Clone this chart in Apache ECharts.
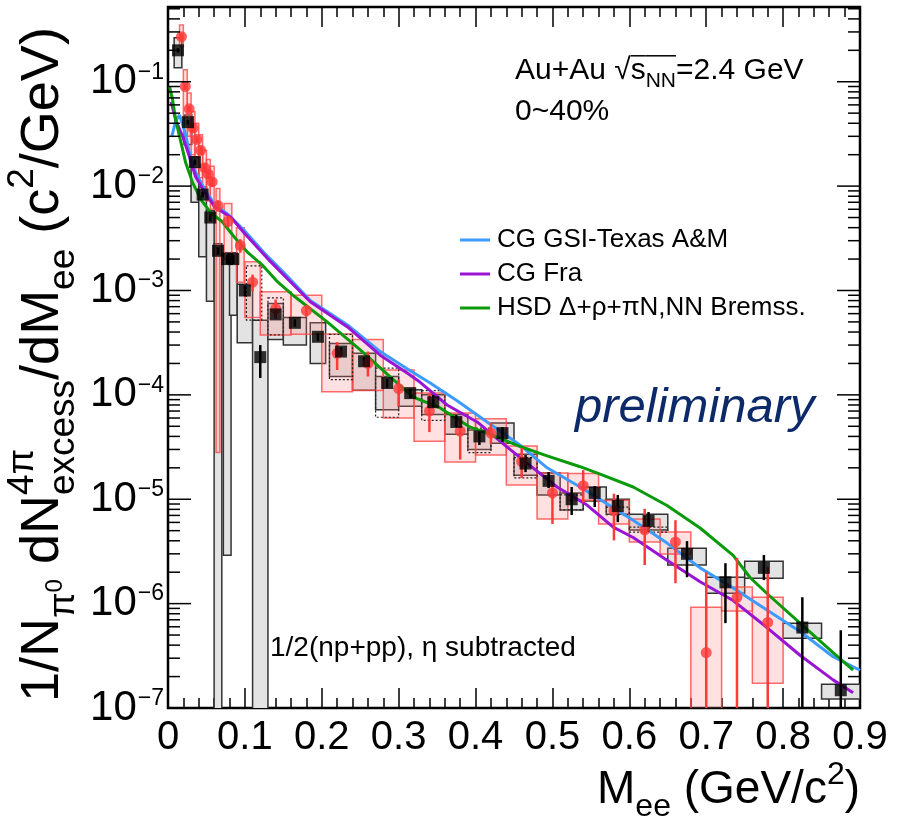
<!DOCTYPE html>
<html><head><meta charset="utf-8">
<script src="https://cdn.jsdelivr.net/npm/echarts@6/dist/echarts.min.js"></script>
<style>html,body{margin:0;padding:0;background:#fff}#c{width:901px;height:819px}</style>
</head><body><div id="c"></div>
<script>
// ---------------- data ----------------
const blackX = [0.013,0.026,0.035,0.045,0.055,0.065,0.077,0.085,0.100,0.120,0.140,0.165,0.195,0.225,0.255,0.285,0.315,0.345,0.375,0.405,0.435,0.465,0.495,0.525,0.555,0.585,0.625,0.675,0.725,0.775,0.825,0.875];
const blackY = [0.20,0.041,0.017,0.0083,0.0050,0.0024,0.0020,0.0020,0.0010,2.3e-4,5.9e-4,4.9e-4,3.6e-4,2.6e-4,2.1e-4,1.3e-4,1.04e-4,8.5e-5,5.5e-5,4.0e-5,4.3e-5,2.2e-5,1.5e-5,1.0e-5,1.15e-5,8.6e-6,6.2e-6,3.0e-6,1.6e-6,2.2e-6,5.9e-7,1.48e-7];
const blackStatLo = [0.19,0.039,0.016,0.0078,0.0046,0.0022,0.0018,0.0018,8.8e-4,1.45e-4,5.4e-4,4.5e-4,3.3e-4,2.35e-4,1.9e-4,1.17e-4,9.3e-5,7.5e-5,4.9e-5,3.31e-5,3.53e-5,1.82e-5,1.28e-5,7.06e-6,8.42e-6,6.04e-6,4.85e-6,1.79e-6,6.5e-7,1.68e-6,1e-9,1e-9];
const blackStatHi = [0.21,0.043,0.018,0.0088,0.0054,0.0026,0.0022,0.0022,1.12e-3,3.0e-4,6.4e-4,5.3e-4,3.9e-4,2.85e-4,2.3e-4,1.43e-4,1.15e-4,1.0e-4,6.4e-5,4.41e-5,4.9e-5,2.65e-5,1.82e-5,1.31e-5,1.34e-5,1.10e-5,7.54e-6,3.97e-6,2.44e-6,2.92e-6,1.15e-6,5.57e-7];
const blackSysLo = [0.136,0.025,0.007,0.0021,7.9e-4,1e-9,2.9e-6,5.8e-4,3.15e-4,1e-9,3.4e-4,3.0e-4,2.0e-4,1.5e-4,1.11e-4,7.2e-5,7.8e-5,6.5e-5,4.2e-5,3.0e-5,3.44e-5,1.7e-5,1.10e-5,7.9e-6,9.6e-6,7.2e-6,5.07e-6,2.34e-6,1.26e-6,1.75e-6,4.67e-7,1.22e-7];
const blackSysHi = [0.264,0.048,0.019,0.0098,0.0058,0.0028,0.0023,0.0023,1.15e-3,5.2e-4,7.5e-4,5.5e-4,4.9e-4,3.1e-4,2.5e-4,1.5e-4,1.12e-4,1.0e-4,6.5e-5,4.6e-5,5.37e-5,2.7e-5,1.78e-5,1.15e-5,1.31e-5,1.0e-5,7.2e-6,3.4e-6,1.79e-6,2.55e-6,6.5e-7,1.69e-7];
const blackHalfW = [0.005,0.005,0.005,0.005,0.005,0.005,0.005,0.005,0.01,0.01,0.01,0.015,0.01,0.015,0.015,0.015,0.015,0.015,0.015,0.015,0.015,0.015,0.015,0.015,0.015,0.015,0.025,0.025,0.025,0.025,0.025,0.025];

const redX = [0.0175,0.0225,0.0275,0.0325,0.0375,0.0425,0.0475,0.0525,0.0575,0.065,0.078,0.094,0.11,0.14,0.18,0.22,0.26,0.30,0.34,0.38,0.42,0.46,0.50,0.54,0.58,0.62,0.66,0.70,0.74,0.78];
const redY = [0.27,0.09,0.055,0.036,0.028,0.022,0.015,0.013,0.011,0.0065,0.0046,0.0027,0.0012,6.7e-4,6.4e-4,2.5e-4,2.0e-4,1.15e-4,7.0e-5,4.5e-5,4.3e-5,2.3e-5,1.15e-5,1.35e-5,7.8e-6,5.1e-6,3.9e-6,3.4e-7,1.15e-6,6.6e-7];
const redStatLo = [0.25,0.084,0.051,0.033,0.026,0.020,0.0138,0.0118,0.0099,0.0057,0.0040,0.0023,9.8e-4,5.4e-4,5.6e-4,1.73e-4,1.5e-4,7.7e-5,4.4e-5,2.4e-5,3.4e-5,1.6e-5,5.8e-6,9.3e-6,4.03e-6,2.34e-6,1.57e-6,1e-9,1e-9,1e-9];
const redStatHi = [0.29,0.096,0.059,0.039,0.030,0.024,0.0162,0.0142,0.0121,0.0073,0.0052,0.0031,1.42e-3,8.2e-4,7.3e-4,3.2e-4,2.6e-4,1.4e-4,1.04e-4,6.1e-5,5.4e-5,3.1e-5,1.4e-5,1.9e-5,1.13e-5,8.1e-6,6.3e-6,2.0e-6,2.73e-6,2.24e-6];
const redSysLo = [0.217,0.046,0.030,0.020,0.015,0.012,0.0085,0.0072,0.006,2.8e-5,0.0020,0.0012,5.5e-4,3.75e-4,3.8e-4,1.07e-4,1.1e-4,6.0e-5,3.6e-5,2.27e-5,2.65e-5,1.37e-5,6.46e-6,9.8e-6,5.8e-6,3.89e-6,2.98e-6,1e-9,8.5e-7,1.73e-7];
const redSysHi = [0.35,0.13,0.078,0.052,0.040,0.031,0.022,0.018,0.0155,0.0095,0.0068,0.0040,1.88e-3,9.7e-4,9.0e-4,3.84e-4,3.4e-4,1.73e-4,1.04e-4,6.7e-5,5.9e-5,3.24e-5,1.78e-5,1.76e-5,9.8e-6,6.46e-6,4.85e-6,9.25e-7,1.44e-6,1.15e-6];
const redHalfW = [0.0025,0.0025,0.0025,0.0025,0.0025,0.0025,0.0025,0.0025,0.0025,0.0025,0.005,0.005,0.01,0.02,0.02,0.02,0.02,0.02,0.02,0.02,0.02,0.02,0.02,0.02,0.02,0.02,0.02,0.02,0.02,0.02];

const dotX = [0.112,0.140,0.225,0.285,0.345,0.405,0.465,0.525,0.585,0.625];
const dotHalfW = [0.01,0.01,0.015,0.015,0.015,0.015,0.015,0.015,0.015,0.025];
const dotLo = [5.2e-4,3.75e-4,1.4e-4,6.1e-5,5.7e-5,2.8e-5,1.6e-5,7.9e-6,7.1e-6,4.85e-6];
const dotHi = [1.72e-3,8.5e-4,3.8e-4,1.8e-4,1.1e-4,4.8e-5,2.5e-5,1.1e-5,8.4e-6,5.4e-6];

const blueX = [0.005,0.010,0.015,0.022,0.028,0.036,0.048,0.060,0.080,0.100,0.125,0.150,0.185,0.233,0.276,0.312,0.341,0.376,0.415,0.458,0.493,0.536,0.579,0.605,0.649,0.692,0.735,0.779,0.822,0.865,0.900];
const blueY = [0.030,0.042,0.048,0.033,0.021,0.0135,0.0092,0.0068,0.0052,0.0037,0.0023,0.0015,8.0e-4,4.7e-4,2.6e-4,1.76e-4,1.3e-4,8.8e-5,5.5e-5,3.3e-5,2.0e-5,1.31e-5,8.3e-6,6.3e-6,3.8e-6,2.2e-6,1.41e-6,8.7e-7,5.4e-7,3.1e-7,2.3e-7];
const purpleX = [0.004,0.010,0.019,0.028,0.036,0.048,0.061,0.082,0.100,0.133,0.185,0.233,0.276,0.312,0.328,0.363,0.402,0.438,0.471,0.506,0.545,0.579,0.605,0.649,0.692,0.735,0.779,0.822,0.865,0.891];
const purpleY = [0.064,0.043,0.030,0.019,0.0123,0.0087,0.0063,0.0050,0.0035,0.0019,7.8e-4,4.5e-4,2.4e-4,1.6e-4,1.32e-4,8.0e-5,5.5e-5,3.3e-5,2.1e-5,1.31e-5,8.8e-6,5.4e-6,4.3e-6,2.6e-6,1.62e-6,1.07e-6,5.9e-7,3.2e-7,1.86e-7,1.4e-7];
const greenX = [0.002,0.006,0.010,0.017,0.023,0.032,0.043,0.056,0.070,0.087,0.104,0.122,0.143,0.165,0.207,0.250,0.293,0.319,0.354,0.393,0.419,0.458,0.493,0.536,0.562,0.605,0.649,0.692,0.735,0.757,0.779,0.822,0.865,0.891];
const greenY = [0.090,0.067,0.043,0.026,0.0167,0.0108,0.0074,0.0055,0.0046,0.0032,0.0023,0.00177,0.0012,8.7e-4,5.0e-4,2.7e-4,1.4e-4,9.5e-5,7.5e-5,4.9e-5,4.2e-5,3.2e-5,2.6e-5,2.05e-5,1.74e-5,1.31e-5,8.7e-6,5.3e-6,2.9e-6,1.78e-6,1.25e-6,6.5e-7,3.4e-7,2.3e-7];

const legendNames = ['CG GSI-Texas A&M','CG Fra','HSD \u0394+\u03c1+\u03c0N,NN Bremss.'];
const yMajorTicks = [1e-7,1e-6,1e-5,1e-4,1e-3,1e-2,1e-1];
const yMinorMult = [2,3,4,5,6,7,8,9];

// ---------------- helpers ----------------
const FAM = "'Liberation Sans', Arial, Helvetica, sans-serif";
const mctx = document.createElement('canvas').getContext('2d');
function measure(t, font){ mctx.font = font; return mctx.measureText(t).width; }
function textRuns(list, o){
  let cx = 0, pendingW = null; const kids = [];
  list.forEach(r => {
    const font = (r.it ? 'italic ' : '') + r.size + 'px ' + FAM;
    const w = measure(r.t, font);
    kids.push({type:'text', x: cx, y: (r.dy||0) - 0.35*r.size,
      style:{text:r.t, font:font, fill:r.fill||'#000', align:'left', verticalAlign:'middle', textAlign:'left', textVerticalAlign:'middle'}});
    if (r.over) kids.push({type:'line', shape:{x1:cx, y1:-0.84*o.base, x2:cx+w, y2:-0.84*o.base}, style:{stroke:'#000', lineWidth:1.5}});
    if (r.stack) pendingW = w;
    else { cx += (pendingW != null ? Math.max(w, pendingW) : w); pendingW = null; }
  });
  if (o.align === 'right') kids.forEach(k => { if (k.type==='text') k.x -= cx; else { k.shape.x1 -= cx; k.shape.x2 -= cx; } });
  return {type:'group', x:o.x, y:o.y, rotation:o.rot||0, silent:true, children:kids};
}

const yTickData = [];
yMajorTicks.forEach(v => { yTickData.push([0.45, v, 1]); yMinorMult.forEach(m => { if (v*m < 0.52) yTickData.push([0.45, v*m, 0]); }); });

function boxRender(style){
  return function(params, api){
    const x = api.value(0), lo = api.value(2), hi = api.value(3), hw = api.value(4);
    const p1 = api.coord([x-hw, hi]), p2 = api.coord([x+hw, lo]);
    return {type:'rect', shape:{x:p1[0], y:p1[1], width:p2[0]-p1[0], height:p2[1]-p1[1]}, style:style};
  };
}
function errRender(color){
  return function(params, api){
    const x = api.value(0), lo = api.value(2), hi = api.value(3);
    const p1 = api.coord([x, hi]), p2 = api.coord([x, lo]);
    return {type:'line', shape:{x1:p1[0], y1:p1[1], x2:p2[0], y2:p2[1]}, style:{stroke:color, lineWidth:2.5}};
  };
}

const blackSysData = blackX.map((x,i)=>[x, blackY[i], blackSysLo[i], blackSysHi[i], blackHalfW[i]]);
const redSysData = redX.map((x,i)=>[x, redY[i], redSysLo[i], redSysHi[i], redHalfW[i]]);
const dotData = dotX.map((x,i)=>[x, dotLo[i], dotLo[i], dotHi[i], dotHalfW[i]]);
const blackErrData = blackX.map((x,i)=>[x, blackY[i], blackStatLo[i], blackStatHi[i]]);
const redErrData = redX.map((x,i)=>[x, redY[i], redStatLo[i], redStatHi[i]]);

const RED = '#ff3838', BLUE = '#3d9bff', PURPLE = '#9a14d4', GREEN = '#0b9a0b';
const xTickCommon = {show:true, inside:true, length:20, lineStyle:{color:'#000', width:1.5}};
const xMinorCommon = {show:true, splitNumber:5, length:10, lineStyle:{color:'#000', width:1.5}};

const option = {
  backgroundColor:'#fff',
  animation:false,
  textStyle:{fontFamily:FAM},
  grid:{left:168, right:41, top:7, bottom:111, show:true, borderColor:'#000', borderWidth:2.5, backgroundColor:'transparent', outerBoundsMode:'none'},
  legend:{orient:'vertical', left:455, top:222, itemWidth:30, itemHeight:3, itemGap:8, icon:'rect', data:legendNames,
    textStyle:{fontSize:26, color:'#000', fontFamily:FAM, padding:[0,0,0,2]}, selectedMode:false},
  xAxis:[
    {type:'value', min:0, max:0.9, interval:0.1, position:'bottom', axisLine:{show:false}, splitLine:{show:false},
     axisTick:xTickCommon, minorTick:xMinorCommon,
     axisLabel:{fontSize:40, color:'#000', fontFamily:FAM, margin:10, formatter:v => v===0 ? '0' : v.toFixed(1)}},
    {type:'value', min:0, max:0.9, interval:0.1, position:'top', axisLine:{show:false}, splitLine:{show:false},
     axisTick:xTickCommon, minorTick:xMinorCommon, axisLabel:{show:false}}
  ],
  yAxis:[{type:'log', logBase:10, min:1e-7, max:0.52, axisLine:{show:false}, axisTick:{show:false}, splitLine:{show:false}, minorTick:{show:false},
    axisLabel:{margin:4, color:'#000', fontFamily:FAM,
      formatter:v => { const l = Math.log10(v), e = Math.round(l); if (Math.abs(l-e) > 0.01) return ''; return '{b|10}{s|\u2212' + (-e) + '}'; },
      rich:{b:{fontSize:42, fontFamily:FAM, color:'#000'}, s:{fontSize:23, fontFamily:FAM, color:'#000', verticalAlign:'top', padding:[0,0,18,1]}}}}],
  series:[
    {type:'custom', name:'sysBlack', clip:true, renderItem:boxRender({fill:'#e3e3e3', stroke:'#333', lineWidth:1.5}), data:blackSysData, z:1},
    {type:'custom', name:'sysRed', clip:true, renderItem:boxRender({fill:'rgba(255,130,130,0.24)', stroke:'rgba(255,70,70,0.8)', lineWidth:1.5}), data:redSysData, z:2},
    {type:'custom', name:'sysDot', clip:true, renderItem:boxRender({fill:'none', stroke:'#222', lineWidth:1.2, lineDash:[2,2]}), data:dotData, z:3},
    {type:'line', name:legendNames[0], data:blueX.map((x,i)=>[x, blueY[i]]), symbol:'none', lineStyle:{color:BLUE, width:3}, itemStyle:{color:BLUE}, z:4},
    {type:'line', name:legendNames[1], data:purpleX.map((x,i)=>[x, purpleY[i]]), symbol:'none', lineStyle:{color:PURPLE, width:3}, itemStyle:{color:PURPLE}, z:4},
    {type:'line', name:legendNames[2], data:greenX.map((x,i)=>[x, greenY[i]]), symbol:'none', lineStyle:{color:GREEN, width:3}, itemStyle:{color:GREEN}, z:4},
    {type:'custom', name:'errBlack', clip:true, renderItem:errRender('#000'), data:blackErrData, z:5},
    {type:'custom', name:'errRed', clip:true, renderItem:errRender(RED), data:redErrData, z:5},
    {type:'scatter', name:'ptsRed', data:redX.map((x,i)=>[x, redY[i]]), symbol:'circle', symbolSize:11, itemStyle:{color:RED}, z:6},
    {type:'scatter', name:'ptsBlack', data:blackX.map((x,i)=>[x, blackY[i]]), symbol:'rect', symbolSize:12, itemStyle:{color:'#000'}, z:7},
    {type:'custom', name:'yticks', clip:false, data:yTickData, z:8, silent:true,
     renderItem:function(params, api){
       const v = api.value(1), major = api.value(2);
       const pl = api.coord([0, v]), pr = api.coord([0.9, v]);
       const L = major ? 23 : 12;
       return {type:'group', children:[
         {type:'line', shape:{x1:pl[0], y1:pl[1], x2:pl[0]+L, y2:pl[1]}, style:{stroke:'#000', lineWidth:1.5}},
         {type:'line', shape:{x1:pr[0]-L, y1:pr[1], x2:pr[0], y2:pr[1]}, style:{stroke:'#000', lineWidth:1.5}}]};
     }}
  ],
  graphic:[
    textRuns([{t:'1/N',size:54},{t:'\u03c0',size:37,dy:15},{t:'0',size:24,dy:2},{t:' dN',size:54},
              {t:'4\u03c0',size:37,dy:-26,stack:true},{t:'excess',size:37,dy:15},{t:'/dM',size:54},{t:'ee',size:37,dy:15},
              {t:' (c',size:54},{t:'2',size:37,dy:-26},{t:'/GeV)',size:54}], {x:62, y:702, rot:Math.PI/2, base:54}),
    textRuns([{t:'M',size:46},{t:'ee',size:32,dy:12},{t:' (GeV/c',size:46},{t:'2',size:32,dy:-20},{t:')',size:46}], {x:860, y:806, align:'right', base:46}),
    textRuns([{t:'Au+Au ',size:30},{t:'\u221a',size:30},{t:'s',size:30,over:true},{t:'NN',size:21,dy:8,over:true},{t:'=2.4 GeV',size:30}], {x:515, y:81, base:30}),
    textRuns([{t:'0~40%',size:30}], {x:515, y:122, base:30}),
    textRuns([{t:'preliminary',size:49,it:true,fill:'#0c2a6a'}], {x:575, y:426, base:49}),
    textRuns([{t:'1/2(np+pp), \u03b7 subtracted',size:28}], {x:270, y:658, base:28})
  ]
};
const chart = echarts.init(document.getElementById('c'));
chart.setOption(option);
</script></body></html>
